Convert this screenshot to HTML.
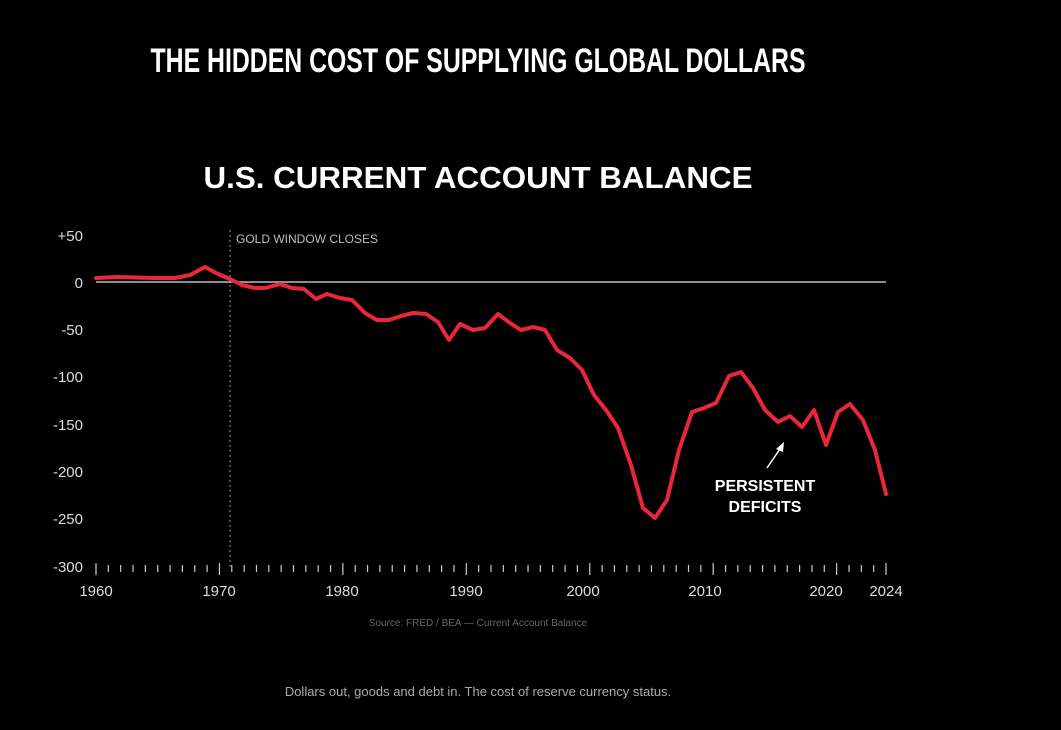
<!DOCTYPE html>
<html><head><style>
html,body{margin:0;padding:0;background:#000;}
body{width:1061px;height:730px;overflow:hidden;position:relative;font-family:"Liberation Sans",sans-serif;}
</style></head><body>
<svg width="1061" height="730" viewBox="0 0 1061 730" xmlns="http://www.w3.org/2000/svg" style="position:absolute;left:0;top:0">
<text x="478" y="72" fill="#fff" font-family="Liberation Sans Narrow, Liberation Sans, sans-serif" font-weight="bold" font-size="34" text-anchor="middle" textLength="655" lengthAdjust="spacingAndGlyphs">THE HIDDEN COST OF SUPPLYING GLOBAL DOLLARS</text>
<text x="478" y="188" fill="#fff" font-weight="bold" font-size="31" text-anchor="middle" textLength="549" lengthAdjust="spacingAndGlyphs">U.S. CURRENT ACCOUNT BALANCE</text>
<g fill="#ddd" font-size="15" text-anchor="end">
<text x="83" y="241">+50</text><text x="83" y="288">0</text><text x="83" y="335">-50</text>
<text x="83" y="382">-100</text><text x="83" y="430">-150</text><text x="83" y="477">-200</text>
<text x="83" y="524">-250</text><text x="83" y="572">-300</text>
</g>
<line x1="96" y1="282" x2="886" y2="282" stroke="#bbb" stroke-width="1.5"/>
<line x1="230" y1="230" x2="230" y2="568" stroke="#999" stroke-width="1" stroke-dasharray="2,3"/>
<text x="236" y="243" fill="#bbb" font-size="12">GOLD WINDOW CLOSES</text>
<g id="ticks" stroke="#ccc" stroke-width="1.2"></g>
<g fill="#ddd" font-size="15" text-anchor="middle">
<text x="96" y="596">1960</text><text x="219" y="596">1970</text><text x="342" y="596">1980</text>
<text x="466" y="596">1990</text><text x="583" y="596">2000</text><text x="705" y="596">2010</text>
<text x="826" y="596">2020</text><text x="886" y="596">2024</text>
</g>
<text x="478" y="626" fill="#666" font-size="10" text-anchor="middle">Source: FRED / BEA — Current Account Balance</text>
<text x="478" y="696" fill="#aaa" font-size="13" text-anchor="middle">Dollars out, goods and debt in. The cost of reserve currency status.</text>
<polyline fill="none" stroke="#e8273a" stroke-width="4" stroke-linejoin="round" stroke-linecap="round" points="96,278 118,277 155,278 175,278 190,275 205,267 218,274 230,279 242,285 255,288 265,288 280,284 292,288 304,289 316,299 327,294 340,298 352,300 365,313 377,320 389,320 401,316 413,313 426,314 438,322 449,340 460,324 473,330 485,328 498,314 510,323 521,330 533,327 545,330 557,350 570,358 582,370 594,395 606,410 618,428 631,465 643,508 655,518 667,500 679,450 692,412 704,408 716,403 729,376 741,372 753,388 765,410 778,422 790,416 802,427 814,410 826,445 838,412 850,404 863,420 875,450 886,494"/>
<line x1="767" y1="468" x2="782" y2="446" stroke="#fff" stroke-width="1.5"/>
<polygon points="784,442 776,449 783,452" fill="#fff"/>
<g fill="#fff" font-weight="bold" font-size="16" text-anchor="middle">
<text x="765" y="491">PERSISTENT</text><text x="765" y="512">DEFICITS</text>
</g>
</svg>
<script>
var g=document.getElementById('ticks'),s='';
for(var y=1960;y<=2024;y++){var x=96+(y-1960)*790/64;var big=(y%10==0||y==2024);s+='<line x1="'+x+'" y1="'+(big?563:565)+'" x2="'+x+'" y2="'+(big?575:572)+'"/>';}
g.innerHTML=s;
</script>
</body></html>
